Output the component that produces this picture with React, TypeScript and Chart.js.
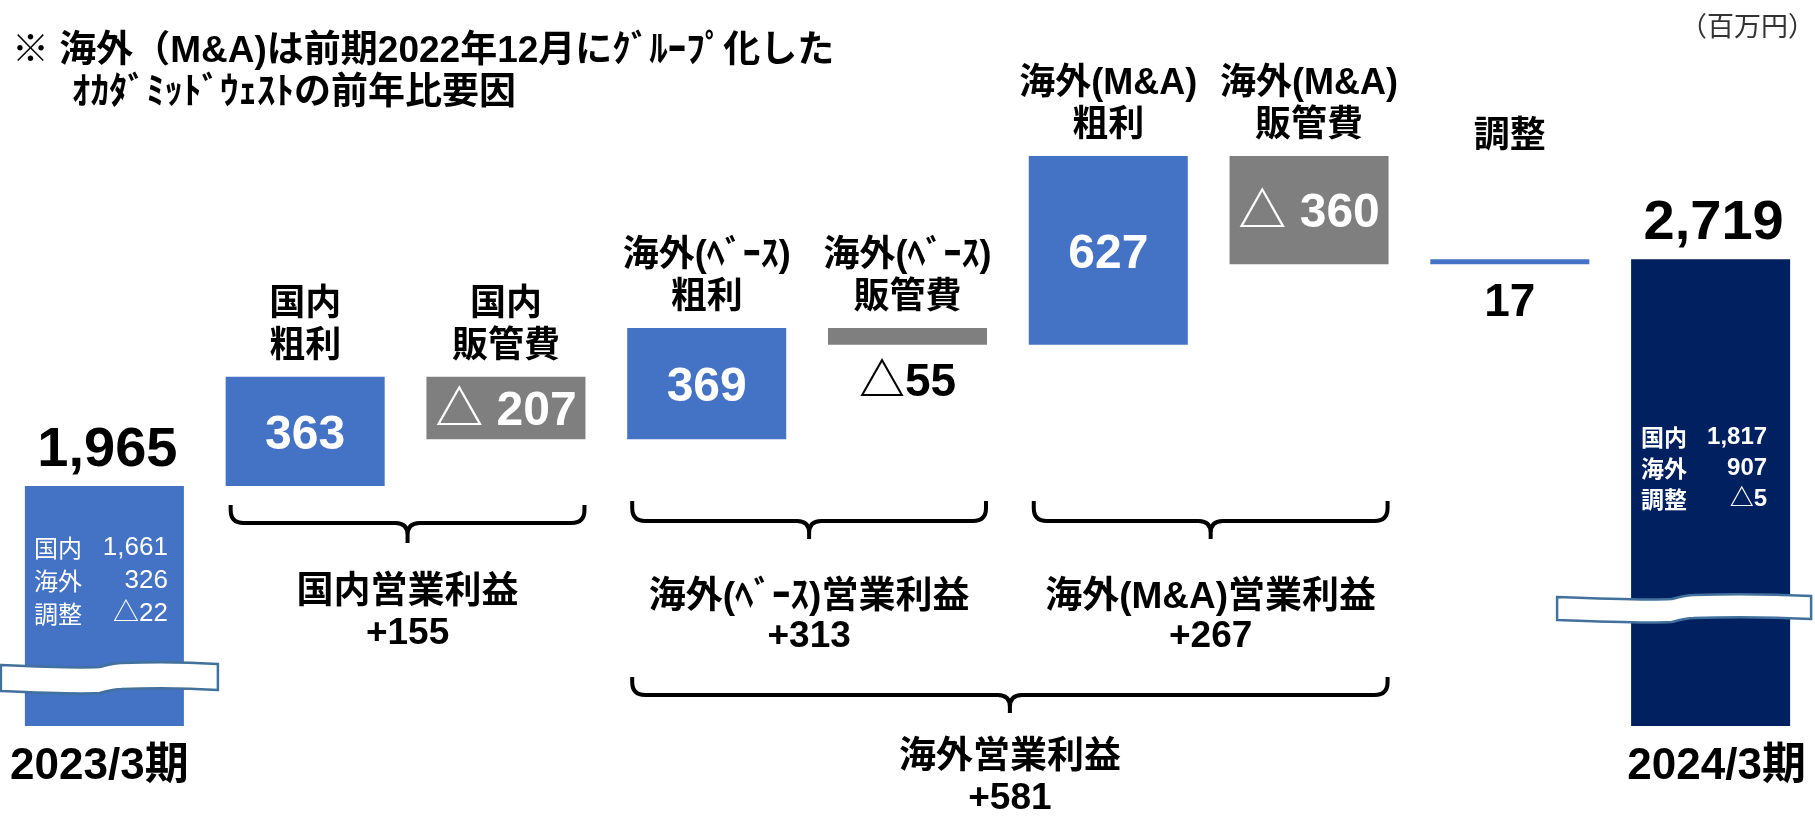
import React, { useEffect, useRef } from 'react';
import { Chart, registerables } from 'chart.js';

Chart.register(...registerables);

// ---------- data ----------
const categories = ['2023/3期', '国内粗利', '国内販管費', '海外(ﾍﾞｰｽ)粗利', '海外(ﾍﾞｰｽ)販管費', '海外(M&A)粗利', '海外(M&A)販管費', '調整', '2024/3期'];
const deltas = [1965, 363, -207, 369, -55, 627, -360, 17, 2719]; // first & last are totals
const valueLabels = ['1,965', '363', '△ 207', '369', '△55', '627', '△ 360', '17', '2,719'];
const topLabels: string[][] = [[], ['国内', '粗利'], ['国内', '販管費'], ['海外(ﾍﾞｰｽ)', '粗利'], ['海外(ﾍﾞｰｽ)', '販管費'], ['海外(M&A)', '粗利'], ['海外(M&A)', '販管費'], ['調整'], []];
const barColors = ['#4472C4', '#4472C4', '#7F7F7F', '#4472C4', '#7F7F7F', '#4472C4', '#7F7F7F', '#4472C4', '#002060'];
const startBreakdownNames = ['国内', '海外', '調整'];
const startBreakdownValues = ['1,661', '326', '△22'];
const endBreakdownNames = ['国内', '海外', '調整'];
const endBreakdownValues = ['1,817', '907', '△5'];
const groupSpans = [[1, 2], [3, 4], [5, 6], [3, 6]];
const groupTitles = ['国内営業利益', '海外(ﾍﾞｰｽ)営業利益', '海外(M&A)営業利益', '海外営業利益'];
const groupValues = ['+155', '+313', '+267', '+581'];
const noteLines = ['※ 海外（M&A)は前期2022年12月にｸﾞﾙｰﾌﾟ化した', 'ｵｶﾀﾞﾐｯﾄﾞｳｪｽﾄの前年比要因'];
const unitLabel = '（百万円）';

const FONT = "'Liberation Sans', 'Noto Sans CJK JP', sans-serif";
const CJK = "'Noto Sans CJK JP', sans-serif";

function txt(ctx: CanvasRenderingContext2D, s: string, x: number, y: number, font: string, color: string, align: CanvasTextAlign = 'center') {
  ctx.font = font;
  ctx.fillStyle = color;
  ctx.textAlign = align;
  ctx.textBaseline = 'middle';
  ctx.fillText(s, x, y);
}

function brace(ctx: CanvasRenderingContext2D, x1: number, x2: number, top: number, mid: number, tip: number) {
  const r = 13;
  const cx = (x1 + x2) / 2;
  const r2 = 12;
  ctx.save();
  ctx.strokeStyle = '#000';
  ctx.lineWidth = 4;
  ctx.lineJoin = 'round';
  ctx.beginPath();
  ctx.moveTo(x1, top);
  ctx.lineTo(x1, mid - r);
  ctx.quadraticCurveTo(x1, mid, x1 + r, mid);
  ctx.lineTo(cx - r2, mid);
  ctx.quadraticCurveTo(cx, mid, cx, mid + r2);
  ctx.lineTo(cx, tip);
  ctx.moveTo(x2, top);
  ctx.lineTo(x2, mid - r);
  ctx.quadraticCurveTo(x2, mid, x2 - r, mid);
  ctx.lineTo(cx + r2, mid);
  ctx.quadraticCurveTo(cx, mid, cx, mid + r2);
  ctx.stroke();
  ctx.restore();
}

function ribbon(ctx: CanvasRenderingContext2D, x1: number, x2: number, y0: number, h: number, sFrac: number) {
  const xs = x1 + (x2 - x1) * sFrac;
  ctx.save();
  ctx.beginPath();
  ctx.moveTo(x1, y0);
  ctx.bezierCurveTo(x1 + (xs - x1) * 0.4, y0 + 2, xs - 30, y0 + 3, xs - 10, y0 + 2);
  ctx.bezierCurveTo(xs - 4, y0 + 1, xs + 2, y0 - 2, xs + 12, y0 - 2);
  ctx.bezierCurveTo(xs + 40, y0 - 3, x2 - (x2 - xs) * 0.3, y0 - 3, x2, y0 - 1);
  ctx.lineTo(x2, y0 - 1 + h);
  ctx.bezierCurveTo(x2 - (x2 - xs) * 0.3, y0 - 3 + h, xs + 40, y0 - 3 + h, xs + 12, y0 - 2 + h);
  ctx.bezierCurveTo(xs + 2, y0 - 2 + h, xs - 4, y0 + 1 + h, xs - 10, y0 + 2 + h);
  ctx.bezierCurveTo(xs - 30, y0 + 3 + h, x1 + (xs - x1) * 0.4, y0 + 2 + h, x1, y0 + h);
  ctx.closePath();
  ctx.fillStyle = '#FFFFFF';
  ctx.fill();
  ctx.strokeStyle = '#41719C';
  ctx.lineWidth = 2.5;
  ctx.stroke();
  ctx.restore();
}

const annotate = {
  id: 'annotate',
  afterDatasetsDraw(chart: any) {
    const ctx: CanvasRenderingContext2D = chart.ctx;
    const meta = chart.getDatasetMeta(0);
    const els = meta.data;
    const box = (i: number) => {
      const p = els[i].getProps(['x', 'y', 'base', 'width'], true);
      const top = Math.min(p.y, p.base);
      const bottom = Math.min(Math.max(p.y, p.base), chart.chartArea.bottom);
      return { cx: p.x, left: p.x - p.width / 2, right: p.x + p.width / 2, top, bottom };
    };
    const last = els.length - 1;

    // break ribbons
    const b0 = box(0);
    ribbon(ctx, b0.left - 24, b0.right + 34, 665, 26, 0.5);
    const bl = box(last);
    ribbon(ctx, bl.left - 74, bl.right + 21, 597, 23, 0.49);

    // labels above and value labels
    els.forEach((_: any, i: number) => {
      const b = box(i);
      const lines = topLabels[i];
      if (lines.length === 2) {
        txt(ctx, lines[0], b.cx, b.top - 72, `bold 36px ${FONT}`, '#000');
        txt(ctx, lines[1], b.cx, b.top - 30, `bold 36px ${FONT}`, '#000');
      } else if (lines.length === 1) {
        txt(ctx, lines[0], b.cx, b.top - 122, `bold 36px ${FONT}`, '#000');
      }
      const v = valueLabels[i];
      if (i === 0 || i === last) {
        txt(ctx, v, b.cx + 3, b.top - 36, `bold 56px ${FONT}`, '#000');
      } else if (b.bottom - b.top > 40) {
        txt(ctx, v, b.cx, (b.top + b.bottom) / 2 + 4, `bold 48px ${FONT}`, '#FFFFFF');
      } else {
        txt(ctx, v, b.cx, b.bottom + 39, `bold 46px ${FONT}`, '#000');
      }
    });

    // breakdowns inside total bars
    startBreakdownNames.forEach((n, k) => {
      const y = b0.top + 62 + k * 33;
      txt(ctx, n, b0.left + 9, y, `24px ${CJK}`, '#FFFFFF', 'left');
      txt(ctx, startBreakdownValues[k], b0.right - 16, y, `26px ${FONT}`, '#FFFFFF', 'right');
    });
    endBreakdownNames.forEach((n, k) => {
      const y = bl.top + 178 + k * 31;
      txt(ctx, n, bl.left + 10, y, `bold 23px ${CJK}`, '#FFFFFF', 'left');
      txt(ctx, endBreakdownValues[k], bl.right - 23, y, `bold 24px ${FONT}`, '#FFFFFF', 'right');
    });

    // category labels under total bars
    txt(ctx, categories[0], b0.cx - 5, 767, `bold 44px ${FONT}`, '#000');
    txt(ctx, categories[last], bl.cx + 6, 767, `bold 44px ${FONT}`, '#000');

    // braces
    const bracePos = [
      { top: 505, mid: 523, tip: 543, ty: 593, vy: 634 },
      { top: 501, mid: 521, tip: 539, ty: 598, vy: 637 },
      { top: 501, mid: 521, tip: 539, ty: 598, vy: 637 },
      { top: 677, mid: 695, tip: 713, ty: 758, vy: 799 },
    ];
    groupSpans.forEach((sp, g) => {
      const a = box(sp[0]);
      const z = box(sp[1]);
      const x1 = a.left + 5;
      const x2 = z.right - 1;
      const p = bracePos[g];
      brace(ctx, x1, x2, p.top, p.mid, p.tip);
      const cx = (x1 + x2) / 2;
      txt(ctx, groupTitles[g], cx, p.ty, `bold 37px ${FONT}`, '#000');
      txt(ctx, groupValues[g], cx, p.vy, `bold 37px ${FONT}`, '#000');
    });

    // note and unit
    txt(ctx, noteLines[0], 12, 52, `bold 37px ${FONT}`, '#000', 'left');
    txt(ctx, noteLines[1], 72, 94, `bold 37px ${FONT}`, '#000', 'left');
    txt(ctx, unitLabel, 1815, 26, `27px ${CJK}`, '#333', 'right');
  },
};

export default function App() {
  const ref = useRef<HTMLCanvasElement>(null);
  useEffect(() => {
    const canvas = ref.current;
    if (!canvas) return;
    let cum = 0;
    const floating = deltas.map((d, i) => {
      if (i === 0) {
        cum = d;
        return [0, d];
      }
      if (i === deltas.length - 1) return [0, d];
      const s = cum;
      cum += d;
      return [s, cum];
    });
    const chart = new Chart(canvas, {
      type: 'bar',
      data: {
        labels: categories,
        datasets: [
          {
            data: floating as any,
            backgroundColor: barColors,
            borderWidth: 0,
            barPercentage: 0.792,
            categoryPercentage: 1,
            clip: 0 as any,
          },
        ],
      },
      options: {
        animation: false,
        responsive: false,
        devicePixelRatio: 1,
        layout: { padding: { left: 4, right: 4, top: 0, bottom: 96 } },
        plugins: { legend: { display: false }, tooltip: { enabled: false } },
        scales: {
          x: { display: false },
          y: { display: false, min: 1168, max: 3580 },
        },
      },
      plugins: [annotate],
    });
    return () => chart.destroy();
  }, []);
  return (
    <div style={{ position: 'absolute', left: 0, top: 0, width: 1815, height: 822, background: '#fff' }}>
      <canvas ref={ref} width={1815} height={822} style={{ display: 'block' }} />
    </div>
  );
}
